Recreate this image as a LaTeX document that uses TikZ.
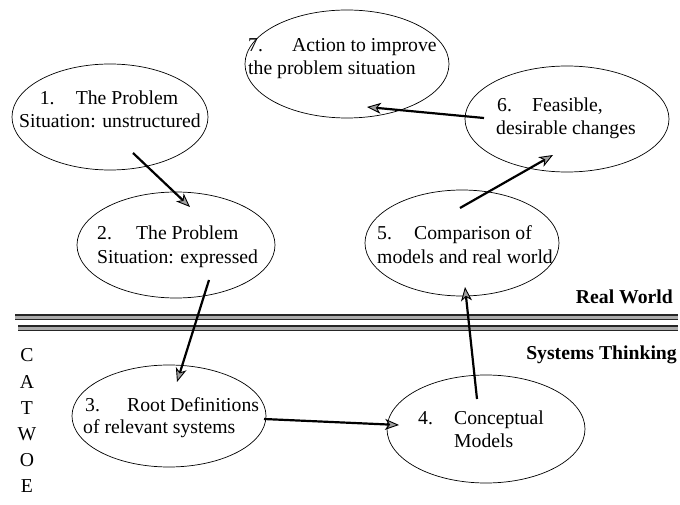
\documentclass[tikz,border=0pt]{standalone}
\usepackage{fontspec}
\setmainfont{Liberation Serif}
\usetikzlibrary{arrows.meta,shapes.geometric}
\begin{document}
\begin{tikzpicture}[x=1pt,y=-1pt,
  txt/.style={font=\fontsize{19.7}{23}\selectfont,inner sep=0pt,anchor=base west},
  oval/.style={ellipse,draw,line width=0.7pt,inner sep=0pt},
  flow/.style={line width=2.2pt,-{Stealth[length=14pt,width=11pt,inset=4pt,fill=gray!75,line width=0.9pt]}},
  bar/.style={draw=black!85,line width=1.2pt,double=gray!65,double distance=3pt},
  side/.style={font=\fontsize{19.7}{20}\selectfont\bfseries,inner sep=0pt,anchor=base east},
  letter/.style={font=\fontsize{19.7}{20}\selectfont,inner sep=0pt,anchor=base}]
\useasboundingbox (0,0) rectangle (680,505);
% stages
\node[oval,minimum width=196,minimum height=106] (e1) at (110,117) {};
\node[txt,anchor=base] (t1a) at (109,105) {\makebox[36pt][l]{1.}The Problem};
\node[txt,anchor=base] (t1b) at (110,128) {Situation: unstructured};
\node[oval,minimum width=198,minimum height=106] (e2) at (176,245) {};
\node[txt] (t2a) at (97,240) {\makebox[39pt][l]{2.}The Problem};
\node[txt] (t2b) at (97,263) {Situation: expressed};
\node[oval,minimum width=194,minimum height=102] (e3) at (169,416) {};
\node[txt] (t3a) at (85,411) {\makebox[42pt][l]{3.}Root Definitions};
\node[txt] (t3b) at (83,433) {of relevant systems};
\node[oval,minimum width=198,minimum height=108] (e4) at (486,429) {};
\node[txt] (t4a) at (418,424) {\makebox[36pt][l]{4.}Conceptual};
\node[txt] (t4b) at (454,447) {Models};
\node[oval,minimum width=194,minimum height=106] (e5) at (462,243) {};
\node[txt] (t5a) at (377,240) {\makebox[37pt][l]{5.}Comparison of};
\node[txt] (t5b) at (377,263) {models and real world};
\node[oval,minimum width=204,minimum height=106] (e6) at (567,119) {};
\node[txt] (t6a) at (497,112) {\makebox[35pt][l]{6.}Feasible,};
\node[txt] (t6b) at (496,135) {desirable changes};
\node[oval,minimum width=204,minimum height=108] (e7) at (347,64) {};
\node[txt] (t7a) at (248,52) {\makebox[44pt][l]{7.}Action to improve};
\node[txt] (t7b) at (248,75) {the problem situation};
% divider
\coordinate (b1l) at (15,317);
\coordinate (b1r) at (678,317);
\coordinate (b2l) at (18,328);
\coordinate (b2r) at (678,328);
\draw[bar] (b1l) -- (b1r);
\draw[bar] (b2l) -- (b2r);
\node[side] (rw) at (673,303) {Real World};
\node[side] (st) at (677,359) {Systems Thinking};
% CATWOE
\node[letter] (lc) at (27,361) {C};
\node[letter] (la) at (27,388) {A};
\node[letter] (lt) at (27,414) {T};
\node[letter] (lw) at (27,440) {W};
\node[letter] (lo) at (27,466) {O};
\node[letter] (le) at (27,492) {E};
% arrows
\coordinate (p1) at (133,153); \coordinate (q1) at (190,207);
\coordinate (p2) at (209,280); \coordinate (q2) at (177,382);
\coordinate (p3) at (264,419); \coordinate (q3) at (399,425);
\coordinate (p4) at (477,399); \coordinate (q4) at (465,287);
\coordinate (p5) at (460,208); \coordinate (q5) at (553,155);
\coordinate (p6) at (484,118); \coordinate (q6) at (367,107);
\draw[flow] (p1) -- (q1);
\draw[flow] (p2) -- (q2);
\draw[flow] (p3) -- (q3);
\draw[flow] (p4) -- (q4);
\draw[flow] (p5) -- (q5);
\draw[flow] (p6) -- (q6);
\end{tikzpicture}
\end{document}
